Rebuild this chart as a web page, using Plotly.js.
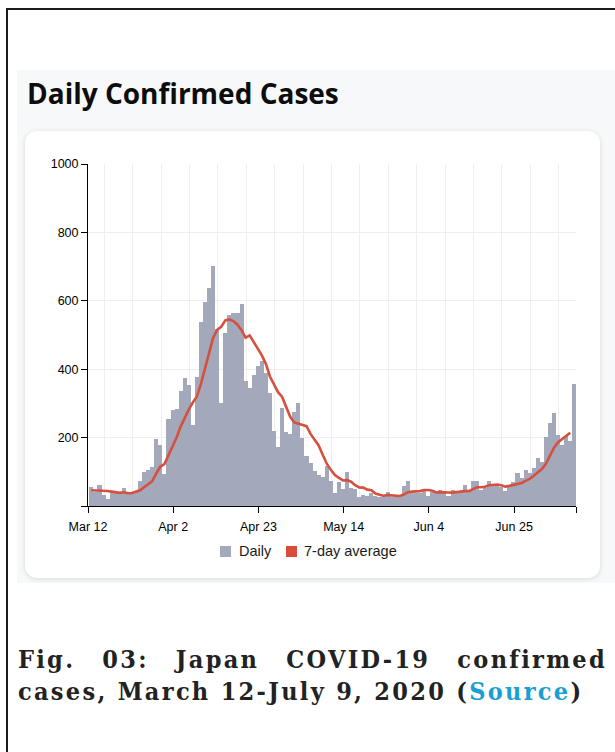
<!DOCTYPE html>
<html>
<head>
<meta charset="utf-8">
<script src="https://cdn.plot.ly/plotly-3.0.1.min.js"></script>
<style>
html,body{margin:0;padding:0;background:#fff;width:615px;height:752px;overflow:hidden;}
#page{position:relative;width:615px;height:752px;}
.bl{position:absolute;background:#1c1c1c;}
#panel{position:absolute;left:17px;top:70px;width:598px;height:513px;background:#f7f8fa;}
#ttl{position:absolute;left:27px;top:79px;font-family:'Open Sans',sans-serif;font-weight:700;font-size:28px;line-height:28px;color:#0d0d0d;white-space:nowrap;}
#card{position:absolute;left:25px;top:131px;width:575px;height:447px;background:#fff;border-radius:12px;box-shadow:0 1px 5px rgba(0,0,0,0.13);}
#chart{position:absolute;left:0;top:0;width:615px;height:752px;}
.sw{position:absolute;top:546px;width:11px;height:11px;}
.lt{position:absolute;top:543px;font-family:'Liberation Sans',Arial,sans-serif;font-size:14.5px;line-height:17px;color:#1a1a1a;white-space:nowrap;}
.cap{position:absolute;left:18px;width:589px;font-family:'DejaVu Serif',serif;font-stretch:condensed;font-weight:700;font-size:25px;letter-spacing:2.3px;line-height:32px;color:#222;white-space:nowrap;}
#cap1{top:644px;text-align:justify;text-align-last:justify;}
#cap2{top:676px;text-align:left;}
.src{color:#1a9fd4;}
</style>
</head>
<body>
<div id="page">
  <div class="bl" style="left:6px;top:8px;width:609px;height:2px;"></div>
  <div class="bl" style="left:6px;top:8px;width:2px;height:744px;"></div>
  <div id="panel"></div>
  <div id="ttl">Daily Confirmed Cases</div>
  <div id="card"></div>
  <div id="chart"></div>
  <div class="sw" style="left:220px;background:#a3a8bb;"></div>
  <div class="lt" style="left:239px;">Daily</div>
  <div class="sw" style="left:286px;background:#dc4b3a;"></div>
  <div class="lt" style="left:304px;">7-day average</div>
  <div class="cap" id="cap1">Fig. 03: Japan COVID-19 confirmed</div>
  <div class="cap" id="cap2">cases, March 12-July 9, 2020 (<span class="src">Source</span>)</div>
</div>
<script>
// ---- data ----
const startDay = [2020, 2, 12]; // 12 March 2020 (month is 0-based)
const daily = [
  57,42,61,32,20,40,37,37,54,40,
  37,44,74,98,104,113,196,179,95,254,
  281,283,337,373,354,237,376,539,597,637,
  702,518,300,506,558,563,563,590,366,346,
  383,410,425,390,330,220,172,286,217,210,
  276,302,198,145,127,101,91,86,118,72,
  38,69,49,98,52,49,26,33,28,38,
  30,26,28,40,26,26,30,59,74,40,
  38,38,49,30,42,40,47,40,28,47,
  42,40,61,47,74,72,47,52,72,62,
  62,57,45,62,69,96,81,106,96,110,
  139,129,201,244,273,208,178,205,190,356
];
const avg7 = [
  46,46,45,45,44,42,41.3,38.4,40.1,37.1,
  37.9,41.3,46.1,54.9,64.4,72.9,95.1,115.4,122.7,148.4,
  174.6,200.1,232.1,257.4,282.4,302.7,320.1,357.0,401.9,444.7,
  491.7,515.1,524.1,542.7,545.4,540.6,530.0,514.0,492.3,498.9,
  481.3,460.1,440.4,415.7,378.6,357.7,332.9,319.0,291.4,260.7,
  244.4,240.4,237.3,233.4,210.7,194.1,177.1,150,123.7,105.7,
  90.4,82.1,74.7,75.7,70.9,61,54.4,53.7,47.9,46.3,
  36.6,32.9,29.9,31.9,30.9,30.6,29.4,33.6,40.4,42.1,
  41.9,43.6,46.9,46.9,44.4,39.6,40.6,40.9,39.4,39.1,
  40.9,40.6,43.6,43.6,48.4,54.7,54.7,56.1,60.7,60.9,
  63,60.6,56.7,58.9,61.3,64.7,67.4,73.7,79.3,88.6,
  99.6,108.1,123.1,146.4,170.3,186.3,196,205.4,214.1
];
const seriesNames = ['Daily', '7-day average'];
const xTickDates = ['2020-03-12','2020-04-02','2020-04-23','2020-05-14','2020-06-04','2020-06-25'];
const xTickLabels = ['Mar 12','Apr 2','Apr 23','May 14','Jun 4','Jun 25'];
const yTickVals = [0,200,400,600,800,1000];
const yTickText = ['','200','400','600','800','1000'];

// ---- helpers ----
const DAY = 86400000;
const t0 = Date.UTC(startDay[0], startDay[1], startDay[2]);
function dstr(ms){ return new Date(ms).toISOString().slice(0,19).replace('T',' '); }
const dates = daily.map((_, i) => dstr(t0 + i*DAY + 20*3600000));
const xRange = [dstr(t0), dstr(t0 + 120*DAY + 6*3600000)];
const weekGrid = [];
for (let i = 4; i <= 120; i += 7) weekGrid.push(dstr(t0 + i*DAY));

const barColor = '#a3a8bb';
const lineColor = '#d6503f';
const gridColor = '#eeeeee';

const traces = [
  {type:'bar', name:seriesNames[0], x:dates, y:daily, width:DAY,
   marker:{color:barColor, line:{width:0}}, xaxis:'x', yaxis:'y', hoverinfo:'skip'},
  {type:'scatter', mode:'lines', name:seriesNames[1], x:dates.slice(0, avg7.length), y:avg7,
   line:{color:lineColor, width:2.6}, xaxis:'x2', yaxis:'y', hoverinfo:'skip'}
];

const layout = {
  width:615, height:752,
  margin:{l:88, r:39, t:164, b:246, pad:0},
  paper_bgcolor:'rgba(0,0,0,0)', plot_bgcolor:'rgba(0,0,0,0)',
  showlegend:false, bargap:0,
  font:{family:'Liberation Sans, Arial, sans-serif', size:12.5, color:'#000'},
  xaxis:{type:'date', range:xRange, tickmode:'array',
         tickvals:xTickDates.concat([xRange[1]]), ticktext:xTickLabels.concat(['']),
         ticks:'outside', ticklen:6, tickwidth:1, tickcolor:'#000', ticklabelstandoff:3,
         showline:true, linecolor:'#000', linewidth:1, showgrid:false, zeroline:false,
         tickfont:{size:12.5, color:'#000'}},
  xaxis2:{type:'date', overlaying:'x', anchor:'y', range:xRange, tickmode:'array',
          tickvals:weekGrid, showticklabels:false, ticks:'', showgrid:true,
          gridcolor:gridColor, gridwidth:1, showline:false, zeroline:false},
  yaxis:{range:[0,1000], tickmode:'array', tickvals:yTickVals, ticktext:yTickText,
         ticks:'outside', ticklen:6, tickwidth:1, tickcolor:'#000',
         showline:true, linecolor:'#000', linewidth:1, showgrid:true,
         gridcolor:gridColor, gridwidth:1, zeroline:false,
         tickfont:{size:12.5, color:'#000'}}
};

Plotly.newPlot('chart', traces, layout, {staticPlot:true, displayModeBar:false});
</script>
</body>
</html>
